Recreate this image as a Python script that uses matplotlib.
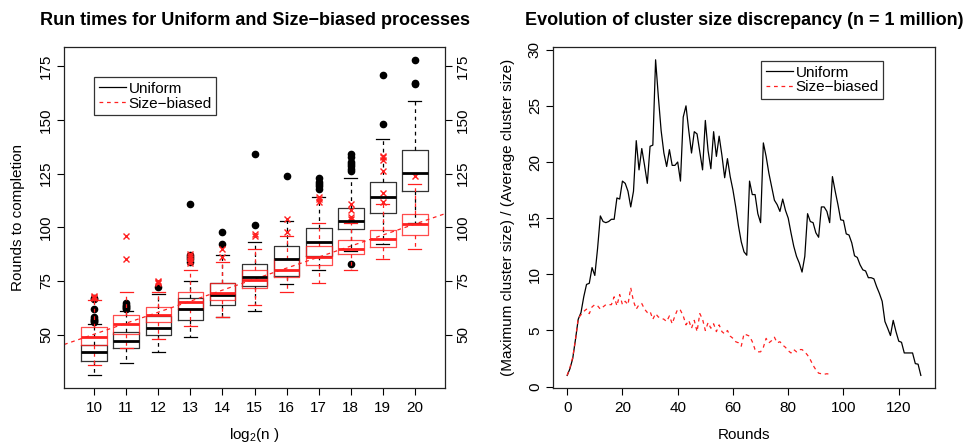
import numpy as np
import matplotlib
matplotlib.use('Agg')
import matplotlib.pyplot as plt
from matplotlib.lines import Line2D

plt.rcParams['font.family'] = ['Liberation Sans', 'DejaVu Sans']
plt.rcParams['mathtext.fontset'] = 'custom'
plt.rcParams['mathtext.rm'] = 'Liberation Sans'
plt.rcParams['mathtext.it'] = 'Liberation Sans'

# ---- left panel: box stats ----
log2n = [10, 11, 12, 13, 14, 15, 16, 17, 18, 19, 20]

# uniform: whislo, q1, med, q3, whishi
uni_whislo = [31, 37, 42, 49, 58, 61, 73.5, 80, 89, 92, 102]
uni_q1 = [37.9, 43.8, 50, 57, 64, 72.5, 77.5, 86.7, 99, 106.5, 117]
uni_med = [42, 47, 53, 62, 68.5, 77, 85, 93, 103, 114.3, 125.5]
uni_q3 = [45, 51, 58.5, 67, 74, 83, 91.5, 99.6, 109, 121, 136]
uni_whishi = [55, 61, 69, 75, 87, 93, 103, 114, 123, 141, 159]
uni_fliers = [
    [56, 56.5, 57, 57.5, 58, 62, 66.5, 67],
    [62, 62.5, 63, 63.5, 64, 64.5],
    [72],
    [84, 85, 86, 87, 111],
    [92, 98],
    [101, 134],
    [124],
    [118, 119, 120, 121, 123],
    [83, 126, 127, 128.5, 129.5, 130.5, 132.5, 134],
    [148, 171],
    [166.5, 167, 178],
]

# size-biased
sb_whislo = [36, 44, 48, 54, 58, 64, 70, 74, 80, 85, 90]
sb_q1 = [45, 50.5, 56, 62, 66.3, 71.5, 77, 82.2, 87.6, 91, 96.5]
sb_med = [49, 55, 59, 65, 69.2, 75.3, 80.3, 86.1, 90, 94.6, 101.4]
sb_q3 = [53.5, 59, 63, 70, 74, 80.2, 85, 91.4, 94, 98.8, 106]
sb_whishi = [66, 70, 70, 80, 84, 90, 96, 102, 102, 111, 120]
sb_fliers = [
    [67, 67.5, 68],
    [85, 96],
    [74, 74.5, 75],
    [83.5, 84.5, 85.5, 86.5, 87.5],
    [86, 90],
    [96, 97],
    [98, 104],
    [112, 113, 114],
    [104, 105, 108, 111],
    [112, 116, 126, 131.5, 132.5, 133],
    [124],
]

# dashed trend line for size-biased (value at log2n = 10 and 20)
trend_x = [10, 20]
trend_y = [50.2, 101.5]

# ---- right panel: discrepancy per round, n = 1 million ----
uniform_ratio = [
    1.0, 1.6, 2.5, 4.2, 6.0, 6.6, 8.0, 9.1, 9.2, 10.6,
    9.9, 12.3, 15.2, 14.7, 14.6, 14.7, 14.9, 14.9, 16.8, 16.7,
    18.3, 18.1, 17.4, 16.0, 17.4, 21.9, 19.3, 21.2, 19.7, 18.1,
    21.4, 21.5, 29.1, 25.8, 22.8, 20.8, 19.6, 21.1, 19.7, 19.7,
    20.0, 18.3, 24.0, 25.0, 22.8, 20.8, 22.7, 22.5, 20.9, 19.3,
    23.7, 21.0, 19.4, 22.7, 20.5, 22.3, 20.6, 18.6, 20.3, 18.7,
    17.5, 16.0, 14.3, 12.9, 12.0, 11.7, 18.3, 17.1, 17.1, 15.4,
    14.6, 21.7, 20.5, 19.0, 17.8, 16.6, 16.2, 15.6, 16.7, 15.7,
    15.0, 13.7, 12.5, 11.6, 11.0, 10.2, 11.6, 15.4, 14.7, 14.6,
    13.7, 13.3, 16.0, 16.0, 15.6, 14.6, 18.7, 17.4, 16.2, 14.85,
    14.8, 13.6, 13.5, 12.8, 11.65, 11.5, 10.85, 10.4, 10.3, 9.7,
    9.7, 9.6, 8.9, 8.3, 7.6, 5.8, 5.2, 4.55, 5.9, 4.9,
    4.05, 3.95, 3.0, 3.0, 3.0, 3.0, 2.05, 2.0, 1.0,
]
sizebiased_ratio = [
    1.0, 1.7, 2.6, 4.2, 6.1, 6.4, 6.7, 6.9, 6.5, 7.1,
    7.3, 7.2, 6.9, 7.1, 7.3, 7.3, 7.3, 8.0, 7.2, 8.2,
    7.3, 7.6, 7.3, 8.8, 7.6, 6.9, 7.3, 7.4, 6.9, 6.6,
    6.7, 6.0, 6.5, 6.2, 6.1, 6.0, 5.8, 6.3, 5.6, 6.3,
    6.9, 6.8, 6.3, 5.5, 5.9, 5.2, 5.9, 4.9, 6.5, 6.0,
    5.0, 5.7, 5.2, 5.6, 4.9, 5.5, 4.9, 4.7, 5.0, 4.5,
    4.3, 4.0, 3.9, 3.6, 4.7, 4.6, 4.5, 4.0, 3.3, 3.1,
    3.1, 3.5, 4.3, 3.9, 4.1, 4.4, 3.9, 4.0, 3.7, 3.5,
    3.2, 3.0, 3.3, 3.1, 3.3, 3.3, 3.1, 2.8, 2.4, 1.9,
    1.5, 1.2, 1.15, 1.1, 1.15, 1.1,
]


def make_stats(lo, q1, med, q3, hi, fl):
    return [dict(whislo=a, q1=b, med=c, q3=d, whishi=e, fliers=f)
            for a, b, c, d, e, f in zip(lo, q1, med, q3, hi, fl)]


def r_pad(lo, hi):
    d = (hi - lo) * 0.04
    return lo - d, hi + d


fig = plt.figure(figsize=(9.66, 4.45), dpi=100)
ax1 = fig.add_axes([0.0663, 0.128, 0.3944, 0.766])
ax2 = fig.add_axes([0.5725, 0.128, 0.3954, 0.766])

fs = 11
dash = (0, (3, 3))

# ---- boxplots ----
red = '#ff2020'
uni_stats = make_stats(uni_whislo, uni_q1, uni_med, uni_q3, uni_whishi, uni_fliers)
sb_stats = make_stats(sb_whislo, sb_q1, sb_med, sb_q3, sb_whishi, sb_fliers)

ax1.bxp(uni_stats, positions=log2n, widths=0.8, capwidths=0.4,
        boxprops=dict(color='#333333', lw=0.9),
        medianprops=dict(color='black', lw=2.0, solid_capstyle='butt'),
        whiskerprops=dict(color='black', lw=0.9, linestyle=dash),
        capprops=dict(color='black', lw=0.9),
        flierprops=dict(marker='o', markerfacecolor='black', markeredgecolor='black',
                        markersize=4.5, linestyle='none'),
        manage_ticks=False)
ax1.bxp(sb_stats, positions=log2n, widths=0.8, capwidths=0.4,
        boxprops=dict(color=red, lw=0.9, alpha=0.8),
        medianprops=dict(color=red, lw=2.0, solid_capstyle='butt'),
        whiskerprops=dict(color=red, lw=0.9, linestyle=dash),
        capprops=dict(color=red, lw=0.9),
        flierprops=dict(marker='x', markeredgecolor=red, markersize=5,
                        markeredgewidth=1.0, linestyle='none'),
        manage_ticks=False)
ax1.axline((trend_x[0], trend_y[0]), (trend_x[1], trend_y[1]),
           color=red, lw=0.9, linestyle=dash)

all_vals = uni_whislo + sb_whislo + uni_whishi + sb_whishi + sum(uni_fliers, []) + sum(sb_fliers, [])
ax1.set_ylim(*r_pad(min(all_vals), max(all_vals)))
ax1.set_xlim(log2n[0] - 0.5 - 0.44, log2n[-1] + 0.5 + 0.44)
ax1.set_xticks(log2n)
ax1.set_yticks([50, 75, 100, 125, 150, 175])
ax1.tick_params(axis='both', direction='out', length=5, width=0.8, labelsize=fs)
ax1.tick_params(axis='x', pad=4)
ax1.tick_params(axis='y', right=True, labelright=True, labelrotation=90, pad=3)
for t in ax1.yaxis.get_major_ticks():
    t.label1.set_va('center')
    t.label2.set_va('center')

ax1.set_ylabel('Rounds to completion', fontsize=fs, va='center')
ax1.yaxis.set_label_coords(-0.12, 0.5)
ax1.set_xlabel(r'log$_2$(n )', fontsize=fs, va='center')
ax1.xaxis.set_label_coords(0.5, -0.138)
ax1.text(0.5, 1.079, 'Run times for Uniform and Size\u2212biased processes',
         transform=ax1.transAxes, ha='center', va='center',
         fontsize=13, fontweight='bold')

handles = [Line2D([], [], color='black', lw=0.9),
           Line2D([], [], color=red, lw=0.9, linestyle=dash)]
leg1 = ax1.legend(handles, ['Uniform', 'Size\u2212biased'], loc='upper left',
                  bbox_to_anchor=(0.079, 0.912), fontsize=fs, frameon=True,
                  fancybox=False, edgecolor='#333333', framealpha=1,
                  handlelength=1.8, handletextpad=0.15, borderpad=0.3,
                  labelspacing=0.05, borderaxespad=0)
leg1.get_frame().set_linewidth(0.9)

# ---- line chart ----
rounds_u = np.arange(len(uniform_ratio))
rounds_s = np.arange(len(sizebiased_ratio))
ax2.plot(rounds_u, uniform_ratio, color='black', lw=0.9)
ax2.plot(rounds_s, sizebiased_ratio, color=red, lw=0.9, linestyle=dash)

ax2.set_xlim(*r_pad(0, rounds_u[-1]))
ax2.set_ylim(*r_pad(min(uniform_ratio + sizebiased_ratio), max(uniform_ratio + sizebiased_ratio)))
ax2.set_xticks(range(0, 121, 20))
ax2.set_yticks(range(0, 31, 5))
ax2.tick_params(axis='both', direction='out', length=5, width=0.8, labelsize=fs)
ax2.tick_params(axis='x', pad=4)
ax2.tick_params(axis='y', labelrotation=90, pad=3)
for t in ax2.yaxis.get_major_ticks():
    t.label1.set_va('center')

ax2.set_ylabel('(Maximum cluster size) / (Average cluster size)', fontsize=fs, va='center')
ax2.yaxis.set_label_coords(-0.118, 0.5)
ax2.set_xlabel('Rounds', fontsize=fs, va='center')
ax2.xaxis.set_label_coords(0.5, -0.138)
ax2.text(0.5, 1.079, 'Evolution of cluster size discrepancy (n = 1 million)',
         transform=ax2.transAxes, ha='center', va='center',
         fontsize=13, fontweight='bold')

handles2 = [Line2D([], [], color='black', lw=0.9),
            Line2D([], [], color=red, lw=0.9, linestyle=dash)]
leg2 = ax2.legend(handles2, ['Uniform', 'Size\u2212biased'], loc='upper left',
                  bbox_to_anchor=(0.545, 0.959), fontsize=fs, frameon=True,
                  fancybox=False, edgecolor='#333333', framealpha=1,
                  handlelength=1.8, handletextpad=0.15, borderpad=0.3,
                  labelspacing=0.05, borderaxespad=0)
leg2.get_frame().set_linewidth(0.9)

for ax in (ax1, ax2):
    for s in ax.spines.values():
        s.set_linewidth(0.9)
        s.set_color('#222222')

fig.savefig('out.png', dpi=100)
